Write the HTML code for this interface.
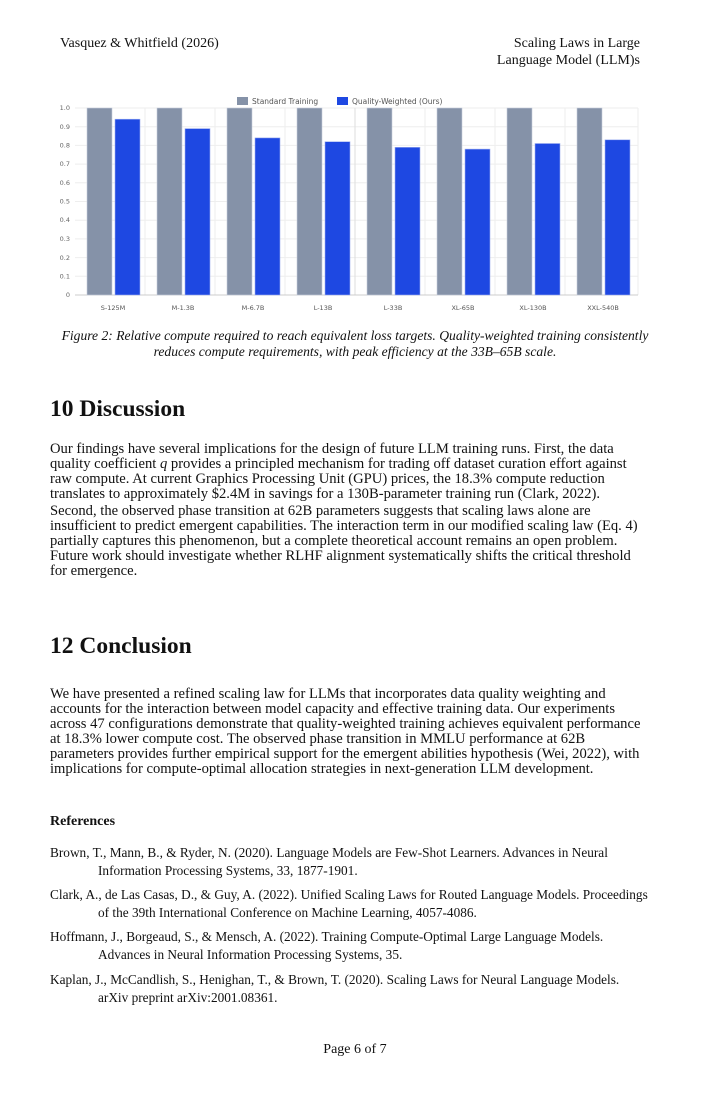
<!DOCTYPE html>
<html><head><meta charset="utf-8"><style>
body{margin:0;width:710px;height:1095px;background:#fff;position:relative;font-family:"Liberation Serif",serif;color:#111;overflow:hidden}
.a{position:absolute;white-space:nowrap}
.t{font-size:14.6px;line-height:15.1px}
.h{font-size:23.5px;font-weight:bold}
.r{font-size:13.3px;line-height:18px}
.r div:nth-child(2){padding-left:48px}
</style></head><body>
<div class="a" style="left:60px;top:35px;font-size:14px;line-height:17px">Vasquez &amp; Whitfield (2026)</div>
<div class="a" style="right:70px;top:35px;font-size:14px;text-align:right;line-height:17px">Scaling Laws in Large<br>Language Model (LLM)s</div>

<svg class="a" style="left:50px;top:90px" width="600" height="225" viewBox="50 90 600 225" font-family="DejaVu Sans, sans-serif">
<g stroke="#eee" stroke-width="1">
<line x1="75" x2="638" y1="108" y2="108"/><line x1="75" x2="638" y1="126.7" y2="126.7"/><line x1="75" x2="638" y1="145.4" y2="145.4"/><line x1="75" x2="638" y1="164.1" y2="164.1"/><line x1="75" x2="638" y1="182.8" y2="182.8"/><line x1="75" x2="638" y1="201.5" y2="201.5"/><line x1="75" x2="638" y1="220.2" y2="220.2"/><line x1="75" x2="638" y1="238.9" y2="238.9"/><line x1="75" x2="638" y1="257.6" y2="257.6"/><line x1="75" x2="638" y1="276.3" y2="276.3"/>
<line x1="145" x2="145" y1="108" y2="295"/><line x1="215" x2="215" y1="108" y2="295"/><line x1="285" x2="285" y1="108" y2="295"/><line x1="355" x2="355" y1="108" y2="295" stroke="#ddd"/><line x1="425" x2="425" y1="108" y2="295"/><line x1="495" x2="495" y1="108" y2="295"/><line x1="565" x2="565" y1="108" y2="295"/><line x1="638" x2="638" y1="108" y2="295"/>
</g>
<line x1="75" x2="638" y1="295" y2="295" stroke="#ccc"/>
<g font-size="6.5" fill="#666" text-anchor="end">
<text x="70" y="110">1.0</text><text x="70" y="129">0.9</text><text x="70" y="147.5">0.8</text><text x="70" y="166">0.7</text><text x="70" y="185">0.6</text><text x="70" y="203.5">0.5</text><text x="70" y="222">0.4</text><text x="70" y="241">0.3</text><text x="70" y="260">0.2</text><text x="70" y="278.5">0.1</text><text x="70" y="297">0</text>
</g>
<g fill="#8592a8" stroke="#c8cfdc" stroke-width="0.6">
<rect x="87" y="108" width="25" height="187"/><rect x="157" y="108" width="25" height="187"/><rect x="227" y="108" width="25" height="187"/><rect x="297" y="108" width="25" height="187"/><rect x="367" y="108" width="25" height="187"/><rect x="437" y="108" width="25" height="187"/><rect x="507" y="108" width="25" height="187"/><rect x="577" y="108" width="25" height="187"/>
</g>
<g fill="#1e48e2" stroke="#9fb0f0" stroke-width="0.6">
<rect x="115" y="119.2" width="25" height="175.8"/><rect x="185" y="128.6" width="25" height="166.4"/><rect x="255" y="137.9" width="25" height="157.1"/><rect x="325" y="141.7" width="25" height="153.3"/><rect x="395" y="147.3" width="25" height="147.7"/><rect x="465" y="149.1" width="25" height="145.9"/><rect x="535" y="143.5" width="25" height="151.5"/><rect x="605" y="139.8" width="25" height="155.2"/>
</g>
<g font-size="6.5" fill="#555" text-anchor="middle">
<text x="113" y="310">S-125M</text><text x="183" y="310">M-1.3B</text><text x="253" y="310">M-6.7B</text><text x="323" y="310">L-13B</text><text x="393" y="310">L-33B</text><text x="463" y="310">XL-65B</text><text x="533" y="310">XL-130B</text><text x="603" y="310">XXL-540B</text>
</g>
<rect x="237" y="97" width="11" height="8" fill="#8592a8"/><text x="252" y="104" font-size="7.5" fill="#555">Standard Training</text>
<rect x="337" y="97" width="11" height="8" fill="#1e48e2"/><text x="352" y="104" font-size="7.5" fill="#555">Quality-Weighted (Ours)</text>
</svg>

<div class="a" style="left:0;width:710px;top:328px;text-align:center;font-style:italic;font-size:13.6px;line-height:16px">Figure 2: Relative compute required to reach equivalent loss targets. Quality-weighted training consistently<br>reduces compute requirements, with peak efficiency at the 33B–65B scale.</div>

<div class="a h" style="left:50px;top:396px">10 Discussion</div>
<div class="a t" style="left:50px;top:442px">
<div>Our findings have several implications for the design of future LLM training runs. First, the data</div>
<div>quality coefficient <i>q</i> provides a principled mechanism for trading off dataset curation effort against</div>
<div>raw compute. At current Graphics Processing Unit (GPU) prices, the 18.3% compute reduction</div>
<div>translates to approximately $2.4M in savings for a 130B-parameter training run (Clark, 2022).</div>
</div>
<div class="a t" style="left:50px;top:504px">
<div>Second, the observed phase transition at 62B parameters suggests that scaling laws alone are</div>
<div>insufficient to predict emergent capabilities. The interaction term in our modified scaling law (Eq. 4)</div>
<div>partially captures this phenomenon, but a complete theoretical account remains an open problem.</div>
<div>Future work should investigate whether RLHF alignment systematically shifts the critical threshold</div>
<div>for emergence.</div>
</div>

<div class="a h" style="left:50px;top:633px">12 Conclusion</div>
<div class="a t" style="left:50px;top:687px">
<div>We have presented a refined scaling law for LLMs that incorporates data quality weighting and</div>
<div>accounts for the interaction between model capacity and effective training data. Our experiments</div>
<div>across 47 configurations demonstrate that quality-weighted training achieves equivalent performance</div>
<div>at 18.3% lower compute cost. The observed phase transition in MMLU performance at 62B</div>
<div>parameters provides further empirical support for the emergent abilities hypothesis (Wei, 2022), with</div>
<div>implications for compute-optimal allocation strategies in next-generation LLM development.</div>
</div>

<div class="a" style="left:50px;top:814px;font-size:14px;font-weight:bold">References</div>
<div class="a r" style="left:50px;top:844px"><div>Brown, T., Mann, B., &amp; Ryder, N. (2020). Language Models are Few-Shot Learners. Advances in Neural</div><div>Information Processing Systems, 33, 1877-1901.</div></div>
<div class="a r" style="left:50px;top:886px"><div>Clark, A., de Las Casas, D., &amp; Guy, A. (2022). Unified Scaling Laws for Routed Language Models. Proceedings</div><div>of the 39th International Conference on Machine Learning, 4057-4086.</div></div>
<div class="a r" style="left:50px;top:928px"><div>Hoffmann, J., Borgeaud, S., &amp; Mensch, A. (2022). Training Compute-Optimal Large Language Models.</div><div>Advances in Neural Information Processing Systems, 35.</div></div>
<div class="a r" style="left:50px;top:971px"><div>Kaplan, J., McCandlish, S., Henighan, T., &amp; Brown, T. (2020). Scaling Laws for Neural Language Models.</div><div>arXiv preprint arXiv:2001.08361.</div></div>

<div class="a" style="left:0;width:710px;text-align:center;top:1042px;font-size:14px">Page 6 of 7</div>
</body></html>
